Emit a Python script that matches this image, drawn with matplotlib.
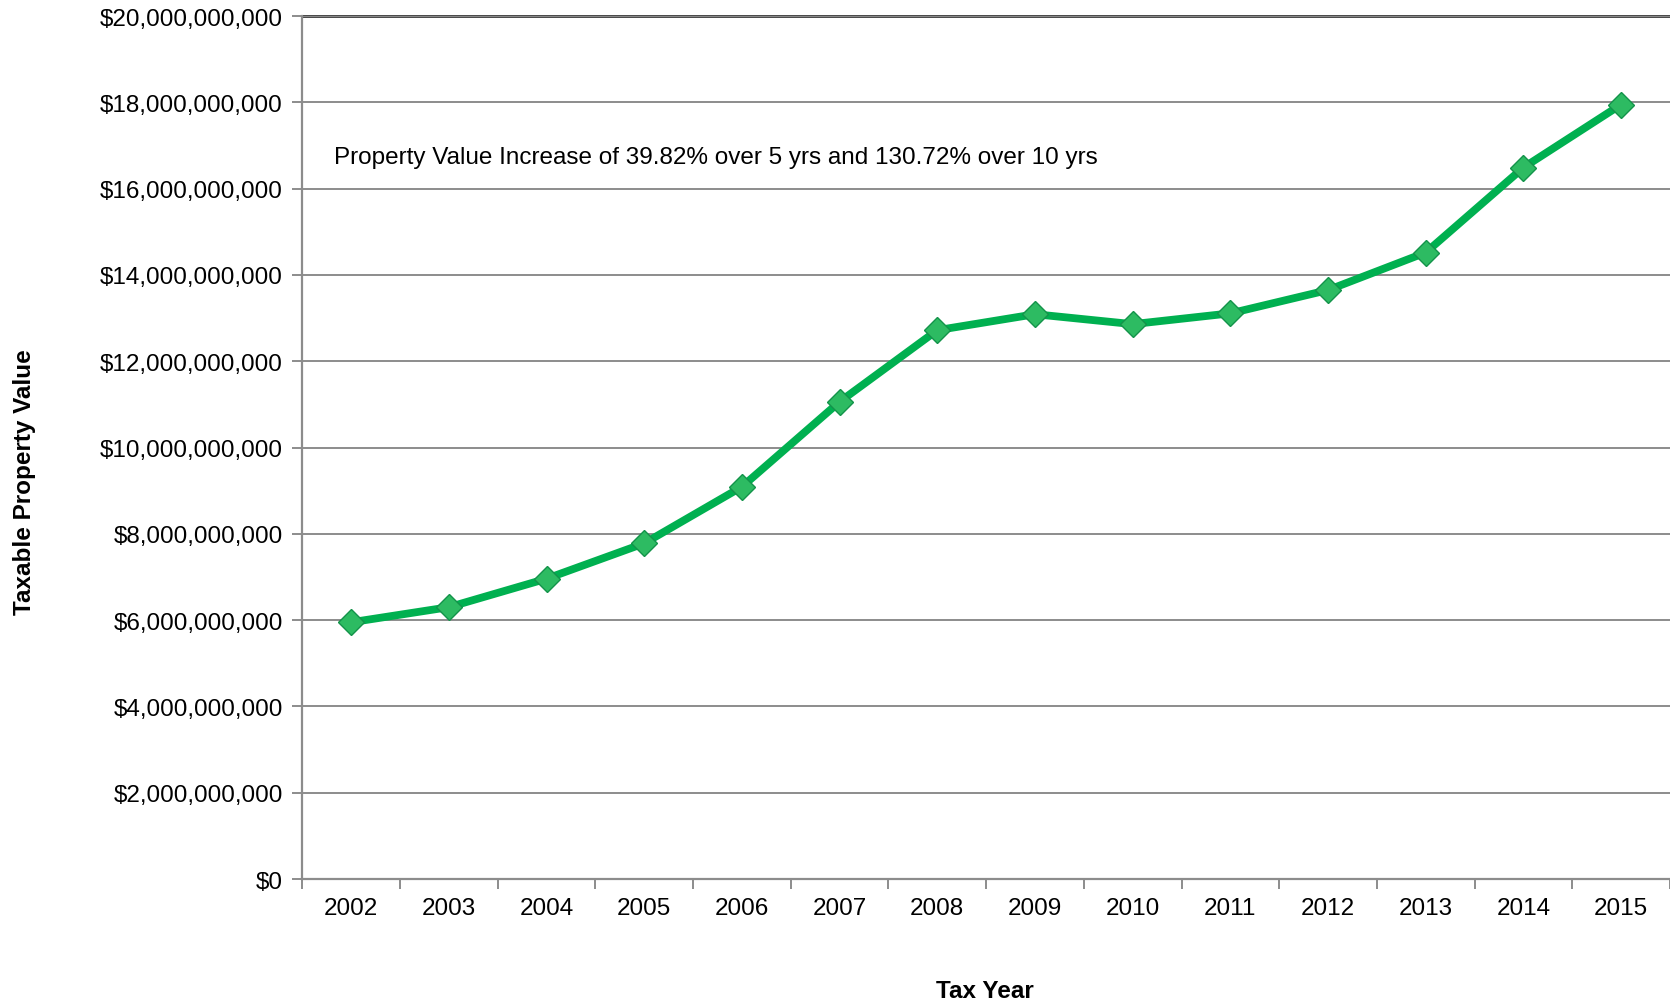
import matplotlib.pyplot as plt
from matplotlib.ticker import FuncFormatter, FixedLocator
import numpy as np

plt.rcParams['font.family'] = ['Liberation Sans', 'DejaVu Sans']

# Taxable property value by tax year (dollars)
years = ['2002', '2003', '2004', '2005', '2006', '2007', '2008',
         '2009', '2010', '2011', '2012', '2013', '2014', '2015']
values = [5.95e9, 6.30e9, 6.96e9, 7.78e9, 9.09e9, 11.06e9, 12.72e9,
          13.09e9, 12.86e9, 13.11e9, 13.65e9, 14.52e9, 16.49e9, 17.95e9]
note = "Property Value Increase of 39.82% over 5 yrs and 130.72% over 10 yrs"

fig = plt.figure(figsize=(16.7, 10.04), dpi=100)
ax = fig.add_axes([0.181, 0.1235, 0.819, 0.8595])

x = np.arange(len(years))
grid_col = '#8c8c8c'
fs = 17.5

ax.set_ylim(0, 20e9)
ax.set_yticks(np.arange(0, 20e9 + 1, 2e9))
ax.yaxis.set_major_formatter(FuncFormatter(lambda v, p: '${:,.0f}'.format(v)))
ax.grid(axis='y', color=grid_col, linewidth=1.4)
ax.axhline(20e9, color='#111111', linewidth=1.8, zorder=1, clip_on=False)

ax.set_xlim(-0.5, len(years) - 0.5)
ax.set_xticks(x)
ax.set_xticklabels(years)
ax.xaxis.set_minor_locator(FixedLocator(np.arange(-0.5, len(years), 1.0)))
ax.tick_params(axis='x', which='major', length=0, pad=13, labelsize=fs)
ax.tick_params(axis='x', which='minor', length=7, width=1.4, color=grid_col)
ax.tick_params(axis='y', length=7, width=1.4, color=grid_col, labelsize=fs, pad=7)

for s in ['top', 'right']:
    ax.spines[s].set_visible(False)
for s in ['left', 'bottom']:
    ax.spines[s].set_color(grid_col)
    ax.spines[s].set_linewidth(1.6)

ax.plot(x, values, color='#00b050', linewidth=5.6, zorder=3,
        solid_capstyle='round')
ax.plot(x, values, linestyle='none', marker='D', markersize=13,
        markerfacecolor='#2dbb62', markeredgecolor='#13934a',
        markeredgewidth=1.0, zorder=4)

ax.text(-0.18, 16.73e9, note, fontsize=fs, va='center', ha='left')

fig.text(0.0145, 0.52, 'Taxable Property Value', rotation=90, fontsize=fs,
         fontweight='bold', va='center', ha='center')
fig.text(0.59, 0.012, 'Tax Year', fontsize=fs, fontweight='bold',
         ha='center', va='center')

fig.savefig('out.png', dpi=100)
